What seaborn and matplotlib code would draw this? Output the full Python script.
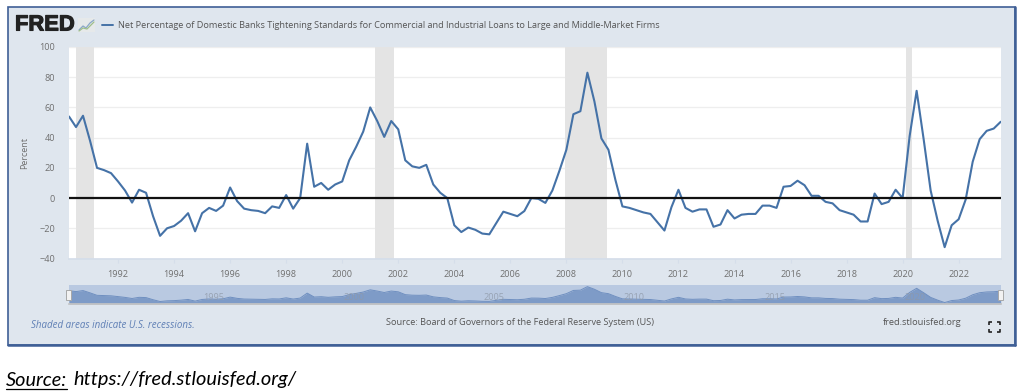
import matplotlib
matplotlib.use("Agg")
import matplotlib.pyplot as plt
from matplotlib.patches import Rectangle
import matplotlib.patheffects as pe
import numpy as np
import pandas as pd
import seaborn as sns

START_YEAR = 1990.25
values = [
    54, 47, 54.5, 38, 20, 18.5, 16.5, 11, 5, -3, 5.5, 3.5, -12, -25, -20, -18.5, -15, -10, -22, -10,
    -6.5, -8.5, -5, 7, -2, -7, -8, -8.5, -10, -5.5, -6.5, 2, -7, 0, 36, 7.5, 10, 5.5, 9, 11,
    25, 34, 44, 60, 51, 40.5, 51, 45.5, 25, 21, 20, 22, 9, 3.5, 0, -18, -22.5, -19.5, -21, -23.5,
    -24, -16.5, -9, -10.5, -12, -8.6, 0, -0.5, -3.2, 5, 18, 32, 55.5, 57.5, 83, 64, 39.5, 32, 12, -5.5,
    -6.5, -8, -9.5, -10.5, -16, -21.5, -6, 5.5, -6.5, -9, -7.5, -7.5, -19, -17.5, -8, -13.5, -11, -10.5, -10.5, -5,
    -5, -6.5, 7.5, 8, 11.5, 8.5, 1.5, 1.5, -2.5, -3.5, -8, -9.5, -11, -15.5, -15.5, 3, -4, -2.5, 5.5, 0,
    41, 71, 39, 5, -15, -32.5, -18, -14, -1, 24, 39, 44.5, 46, 50.5,
]
rec_start = [1990.5, 2001.17, 2007.95, 2020.12]
rec_end = [1991.14, 2001.84, 2009.46, 2020.33]
y_ticks = [-40, -20, 0, 20, 40, 60, 80, 100]
x_ticks = list(range(1992, 2024, 2))
nav_ticks = [1995, 2000, 2005, 2010, 2015, 2020]
TITLE = "Net Percentage of Domestic Banks Tightening Standards for Commercial and Industrial Loans to Large and Middle-Market Firms"

df = pd.DataFrame({"year": START_YEAR + np.arange(len(values)) * 0.25, "value": values})

W, H = 1024, 392
sns.set_theme(style="white")
plt.rcParams["font.family"] = ["Open Sans", "DejaVu Sans"]
fig = plt.figure(figsize=(W / 100, H / 100), dpi=100, facecolor="white")


def px_axes(l, t, r, b, **kw):
    return fig.add_axes([l / W, 1 - b / H, (r - l) / W, (b - t) / H], **kw)


# Panel layer, in pixel coordinates
bg = px_axes(0, 0, W, H)
bg.set_xlim(0, W)
bg.set_ylim(H, 0)
bg.axis("off")
bg.add_patch(Rectangle((8, 7), 1007, 338, fc="#dfe6ee", ec="#3f5f96", lw=1.2))
bg.plot([1015, 1015], [7, 345], color="#3f5f96", lw=1.8)
bg.plot([8, 1015], [345, 345], color="#3f5f96", lw=1.8)

GREY = "#707070"
bg.text(15, 25, "FRED", fontsize=15.8, fontweight="bold", family="Liberation Sans",
        color="#222222", va="center", ha="left",
        path_effects=[pe.withStroke(linewidth=0.8, foreground="#222222")])
bg.add_patch(Rectangle((78, 18), 17, 14, fc="#e6e9ea", ec="none"))
bg.plot([79, 83, 86, 90, 94], [30, 26, 28, 23, 20], color="#8aa7c8", lw=0.9)
bg.plot([79, 83, 87, 90, 94], [31, 28, 29, 26, 22], color="#9fbf8a", lw=0.9)
bg.plot([102, 113], [24.5, 24.5], color="#4572a7", lw=1.4)
bg.text(118, 25, TITLE, fontsize=6.6, color="#555555", va="center", ha="left")
bg.text(31, 326, "Shaded areas indicate U.S. recessions.", fontsize=7.0, style="italic",
        color="#5f7fb5", va="center")
bg.text(386, 322.5, "Source: Board of Governors of the Federal Reserve System (US)", fontsize=6.6,
        color="#555555", va="center")
bg.text(883, 322.5, "fred.stlouisfed.org", fontsize=6.65, color="#555555", va="center")
for cx, cy, dx, dy in [(989, 322, 1, 1), (1000, 322, -1, 1), (989, 332, 1, -1), (1000, 332, -1, -1)]:
    bg.plot([cx + 3 * dx, cx, cx], [cy, cy, cy + 3 * dy], color="#222222", lw=1.2, solid_capstyle="butt")
bg.text(6, 380, "Source:", fontsize=14.3, style="italic", family="Lato", color="black", va="center")
bg.plot([6, 67], [389, 389], color="black", lw=0.9)
bg.text(73, 380, "https://fred.stlouisfed.org/", fontsize=14.4, style="italic", family="Lato",
        color="black", va="center")

# Main chart
ax = px_axes(69, 47, 1000.7, 258.5, facecolor="white")
for s, e in zip(rec_start, rec_end):
    ax.axvspan(s, e, color="#e4e4e4", lw=0, zorder=1.5)
sns.lineplot(data=df, x="year", y="value", ax=ax, color="#4572a7", lw=1.5, zorder=3, errorbar=None)
ax.axhline(0, color="#111111", lw=1.6, zorder=4)
ax.set_xlim(START_YEAR, 2023.5)
ax.set_ylim(-40, 100)
ax.set_yticks(y_ticks)
ax.set_xticks(x_ticks)
ax.set_xticklabels([str(v) for v in x_ticks])
ax.grid(axis="y", color="#eeeeee", lw=0.9, zorder=1)
ax.set_axisbelow(True)
for sp in ax.spines.values():
    sp.set_visible(False)
ax.spines["bottom"].set_visible(True)
ax.spines["bottom"].set_color("#d5deea")
ax.tick_params(axis="y", length=0, pad=10, labelsize=6.6, labelcolor=GREY)
ax.tick_params(axis="x", length=3, color="#d5deea", width=0.8, pad=5, labelsize=6.6, labelcolor=GREY, bottom=True)
ax.set_xlabel("")
ax.set_ylabel("")
bg.text(25, 153, "Percent", rotation=90, fontsize=6.5, color=GREY, va="center", ha="center")

# Navigator
nav = px_axes(69, 285, 1000.7, 304, facecolor="#b9c9e1")
nav.fill_between(df["year"], df["value"], -43, color="#7e9bc7", lw=0, zorder=2)
sns.lineplot(data=df, x="year", y="value", ax=nav, color="#6f8fc0", lw=0.7, zorder=3, errorbar=None)
nav.set_xlim(START_YEAR, 2023.5)
nav.set_ylim(-43, 95)
nav.set_xticks([])
nav.set_yticks([])
nav.set_xlabel("")
nav.set_ylabel("")
for sp in nav.spines.values():
    sp.set_visible(False)
nav.spines["bottom"].set_visible(True)
nav.spines["bottom"].set_color("#c4c4c4")
for yr in nav_ticks:
    nav.annotate(str(yr), (yr, 0.33), xycoords=("data", "axes fraction"), xytext=(12, 0),
                 textcoords="offset pixels", fontsize=6.6, color="#8f99a8", ha="center", va="center",
                 alpha=0.8, zorder=4)

top = px_axes(0, 0, W, H)
top.set_xlim(0, W)
top.set_ylim(H, 0)
top.axis("off")
top.patch.set_alpha(0)
for hx in (66, 998):
    top.add_patch(Rectangle((hx, 290), 5, 10, fc="#f2f2f2", ec="#a8a8a8", lw=0.7))

fig.savefig("out.png", dpi=100)
